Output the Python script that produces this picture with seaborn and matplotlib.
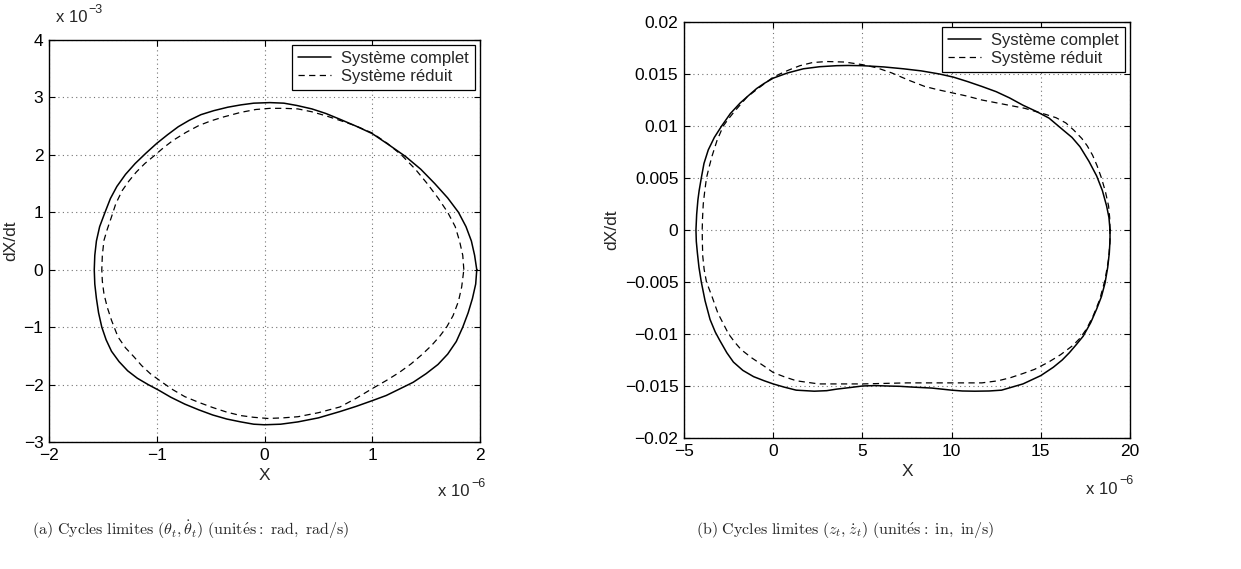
import numpy as np
import matplotlib
matplotlib.use("Agg")
import matplotlib.pyplot as plt
import seaborn as sns

sns.set_theme(style="ticks")
plt.rcParams["font.family"] = ["Liberation Sans", "DejaVu Sans"]
plt.rcParams["mathtext.fontset"] = "cm"

# (a) theta_t : X in 1e-6 rad, dX/dt in 1e-3 rad/s
a_full_x = [1.97, 1.95, 1.92, 1.87, 1.80, 1.70, 1.58, 1.45, 1.31, 1.15, 1.00, 0.85,
            0.70, 0.57, 0.44, 0.30, 0.18, 0.05, -0.10, -0.22, -0.34, -0.47, -0.59,
            -0.70, -0.80, -0.90, -1.00, -1.10, -1.20, -1.29, -1.37, -1.43, -1.48,
            -1.53, -1.56, -1.575, -1.58, -1.575, -1.56, -1.54, -1.51, -1.47, -1.42,
            -1.35, -1.27, -1.18, -1.08, -0.98, -0.87, -0.74, -0.61, -0.48, -0.35,
            -0.22, -0.10, 0.00, 0.15, 0.31, 0.50, 0.70, 0.85, 1.00, 1.13, 1.25,
            1.38, 1.50, 1.61, 1.70, 1.78, 1.84, 1.89, 1.93, 1.96, 1.97]
a_full_y = [0.00, 0.25, 0.50, 0.75, 1.00, 1.25, 1.50, 1.75, 1.97, 2.18, 2.37, 2.50,
            2.62, 2.72, 2.80, 2.86, 2.90, 2.91, 2.90, 2.87, 2.83, 2.77, 2.70,
            2.60, 2.49, 2.35, 2.20, 2.03, 1.85, 1.66, 1.45, 1.24, 1.00,
            0.75, 0.50, 0.25, 0.00, -0.25, -0.50, -0.75, -1.00, -1.22, -1.42,
            -1.60, -1.76, -1.89, -2.00, -2.10, -2.22, -2.34, -2.44, -2.53, -2.60,
            -2.65, -2.69, -2.70, -2.69, -2.65, -2.58, -2.47, -2.38, -2.28, -2.19, -2.08,
            -1.96, -1.81, -1.65, -1.47, -1.25, -1.00, -0.75, -0.50, -0.25, 0.00]
a_red_x = [1.85, 1.84, 1.81, 1.77, 1.70, 1.61, 1.51, 1.40, 1.27, 1.14, 1.00, 0.84,
           0.70, 0.57, 0.44, 0.31, 0.18, 0.05, -0.08, -0.22, -0.38, -0.50, -0.61,
           -0.73, -0.85, -0.94, -1.02, -1.11, -1.19, -1.26, -1.32, -1.38, -1.42,
           -1.46, -1.49, -1.505, -1.51, -1.505, -1.49, -1.46, -1.42, -1.36, -1.29,
           -1.21, -1.14, -1.06, -0.95, -0.85, -0.74, -0.61, -0.48, -0.35, -0.22,
           -0.10, 0.03, 0.17, 0.31, 0.50, 0.70, 0.85, 1.00, 1.13, 1.25, 1.36, 1.46,
           1.55, 1.63, 1.69, 1.75, 1.80, 1.83, 1.85]
a_red_y = [0.00, 0.25, 0.50, 0.75, 1.00, 1.25, 1.50, 1.75, 2.00, 2.20, 2.38, 2.51,
           2.60, 2.68, 2.75, 2.80, 2.81, 2.81, 2.79, 2.74, 2.66, 2.59, 2.51,
           2.39, 2.25, 2.12, 1.99, 1.85, 1.70, 1.54, 1.38, 1.15, 0.92,
           0.70, 0.51, 0.25, 0.00, -0.20, -0.42, -0.65, -0.88, -1.17, -1.36,
           -1.52, -1.67, -1.81, -1.96, -2.09, -2.21, -2.31, -2.40, -2.48, -2.54,
           -2.57, -2.59, -2.58, -2.56, -2.49, -2.39, -2.24, -2.07, -1.93, -1.79, -1.64, -1.48,
           -1.32, -1.15, -1.00, -0.80, -0.55, -0.30, 0.00]

# (b) z_t : X in 1e-6 in, dX/dt in in/s
b_full_x = [18.88, 18.82, 18.69, 18.45, 18.13, 17.70, 17.20, 16.75, 16.26, 15.46, 14.75,
            14.00, 13.25, 12.50, 11.70, 10.90, 10.10, 9.32, 8.30, 7.30, 6.20, 5.00,
            4.20, 3.56, 2.60, 1.69, 0.80, 0.00, -0.50, -0.93, -1.40, -1.86, -2.40,
            -2.89, -3.30, -3.64, -3.88, -4.03, -4.15, -4.22, -4.29, -4.33, -4.31,
            -4.25, -4.16, -4.03, -3.82, -3.54, -3.25, -3.00, -2.60, -2.23, -1.70,
            -1.10, -0.50, 0.00, 0.60, 1.29, 2.30, 3.00, 3.56, 4.30, 5.00, 5.70, 6.40,
            7.10, 7.75, 8.90, 10.00, 10.60, 11.30, 12.10, 12.80, 13.40, 14.00, 14.50,
            15.00, 15.70, 16.20, 16.60, 17.00, 17.38, 17.80, 18.13, 18.40, 18.60,
            18.75, 18.84, 18.88, 18.88]
b_full_y = [0.0, 0.0012, 0.0023, 0.0038, 0.0052, 0.0066, 0.0080, 0.0089, 0.0096, 0.01076,
            0.0114, 0.0120, 0.0127, 0.0133, 0.0138, 0.01427, 0.0147, 0.0150, 0.0153,
            0.0155, 0.01568, 0.0158, 0.01582, 0.0158, 0.0157, 0.0155, 0.0151, 0.0146,
            0.0141, 0.0136, 0.0129, 0.0122, 0.0112, 0.0100, 0.0089, 0.0077, 0.0064,
            0.0050, 0.0038, 0.0029, 0.0015, 0.0, -0.0011, -0.0022, -0.0036, -0.0050,
            -0.0068, -0.0086, -0.0098, -0.0106, -0.0118, -0.0127, -0.0135, -0.0141,
            -0.0145, -0.0148, -0.0151, -0.0154, -0.0155, -0.01545, -0.0153, -0.01515,
            -0.0150, -0.01496, -0.0150, -0.01503, -0.0151, -0.0152, -0.0154, -0.01548,
            -0.0155, -0.01548, -0.0154, -0.0151, -0.0148, -0.0144, -0.0140, -0.0132,
            -0.0125, -0.0118, -0.0110, -0.0102, -0.0089, -0.0076, -0.0064, -0.0051,
            -0.0036, -0.0022, -0.0010, 0.0]
b_red_x = [18.88, 18.86, 18.80, 18.62, 18.40, 18.15, 17.90, 17.60, 17.30, 16.85, 16.40,
           15.85, 15.30, 14.70, 14.10, 12.90, 11.70, 10.80, 10.00, 9.20, 8.50, 7.60,
           6.65, 5.80, 5.00, 4.00, 3.00, 2.20, 1.50, 0.90, 0.50, 0.00, -0.70, -1.46,
           -2.17, -2.50, -2.80, -3.15, -3.43, -3.60, -3.74, -3.84, -3.92, -3.96,
           -3.98, -3.97, -3.95, -3.87, -3.74, -3.43, -3.10, -2.50, -2.15, -1.80,
           -1.20, -0.50, 0.00, 0.60, 1.30, 2.55, 3.80, 5.00, 7.50, 10.00, 11.70,
           12.60, 13.30, 14.00, 14.65, 15.44, 16.10, 16.80, 17.20, 17.57, 17.95,
           18.30, 18.60, 18.80, 18.87, 18.88]
b_red_y = [0.0, 0.0012, 0.0023, 0.0037, 0.0050, 0.0062, 0.0072, 0.0081, 0.0088, 0.0096,
           0.0103, 0.0108, 0.0111, 0.0114, 0.0117, 0.0121, 0.0125, 0.0129, 0.0132,
           0.0135, 0.0138, 0.0144, 0.0151, 0.0156, 0.0159, 0.01615, 0.0162, 0.0161,
           0.0158, 0.0154, 0.0151, 0.0147, 0.0138, 0.0128, 0.0114, 0.0107, 0.0100,
           0.0086, 0.0071, 0.0060, 0.0050, 0.0037, 0.0025, 0.0012, 0.0, -0.0012,
           -0.0025, -0.0038, -0.0050, -0.0064, -0.0080, -0.0100, -0.0108, -0.0115,
           -0.0123, -0.0131, -0.0137, -0.0141, -0.0145, -0.0148, -0.0148, -0.0148,
           -0.0147, -0.0147, -0.0147, -0.0145, -0.0142, -0.0138, -0.0134, -0.0127,
           -0.0120, -0.0111, -0.0104, -0.0095, -0.0082, -0.0067, -0.0048, -0.0028,
           -0.0013, 0.0]

labels = ["Système complet", "Système réduit"]
captions = [r"$\mathrm{(a)\ Cycles\ limites\ }(\theta_t,\dot{\theta}_t)\mathrm{\ (unit\acute{e}s{:}\ rad,\ rad/s)}$",
            r"$\mathrm{(b)\ Cycles\ limites\ }(z_t,\dot{z}_t)\mathrm{\ (unit\acute{e}s{:}\ in,\ in/s)}$"]

W, H = 1241, 569
fig = plt.figure(figsize=(W / 100, H / 100), dpi=100)
ax1 = fig.add_axes([49 / W, 1 - 442 / H, 431 / W, 402 / H])
ax2 = fig.add_axes([684 / W, 1 - 438 / H, 446 / W, 416 / H])

def draw(ax, fx, fy, rx, ry):
    sns.lineplot(x=fx, y=fy, sort=False, estimator=None, color="black", lw=1.1,
                 label=labels[0], ax=ax)
    sns.lineplot(x=rx, y=ry, sort=False, estimator=None, color="black", lw=0.9,
                 linestyle=(0, (5, 3.5)), label=labels[1], ax=ax)
    ax.grid(True, linestyle=(0, (1, 3)), color="0.45", lw=0.8)
    ax.tick_params(direction="in", length=4, width=0.8, labelsize=12.5, pad=4,
                   top=True, right=True, colors="black")
    for s in ax.spines.values():
        s.set_color("black")
        s.set_linewidth(1.0)
    ax.set_xlabel("X", fontsize=12.5, labelpad=4)
    ax.set_ylabel("dX/dt", fontsize=12.5, labelpad=4)
    leg = ax.legend(loc="upper right", fontsize=12, fancybox=False, edgecolor="black",
                    framealpha=1, borderaxespad=0.3, handlelength=2.0,
                    handletextpad=0.6, borderpad=0.35, labelspacing=0.2)
    leg.get_frame().set_linewidth(0.9)

draw(ax1, a_full_x, a_full_y, a_red_x, a_red_y)
ax1.set_xlim(-2, 2)
ax1.set_ylim(-3, 4)
ax1.set_xticks(np.arange(-2, 3, 1))
ax1.set_yticks(np.arange(-3, 5, 1))

draw(ax2, b_full_x, b_full_y, b_red_x, b_red_y)
ax2.set_xlim(-5, 20)
ax2.set_ylim(-0.02, 0.02)
ax2.set_xticks(np.arange(-5, 21, 5))
ax2.set_yticks([-0.02, -0.015, -0.01, -0.005, 0, 0.005, 0.01, 0.015, 0.02])
ax2.yaxis.set_major_formatter(plt.FuncFormatter(lambda v, _: f"{v:g}".replace("-", "\u2212")))

# MATLAB style exponent labels
def expo(xr, yc, power):
    fig.text(xr / W, 1 - yc / H, "x 10", fontsize=12, ha="right", va="center")
    fig.text(xr / W + 0.001, 1 - (yc - 8) / H, power, fontsize=9, ha="left", va="center")

expo(87, 18, "\u22123")
expo(470, 492, "\u22126")
expo(1118, 489, "\u22126")

fig.text(191 / W, 1 - 530 / H, captions[0], fontsize=11.5, ha="center", va="center")
fig.text(845 / W, 1 - 530 / H, captions[1], fontsize=11.5, ha="center", va="center")

fig.savefig("out.png", dpi=100, facecolor="white")
